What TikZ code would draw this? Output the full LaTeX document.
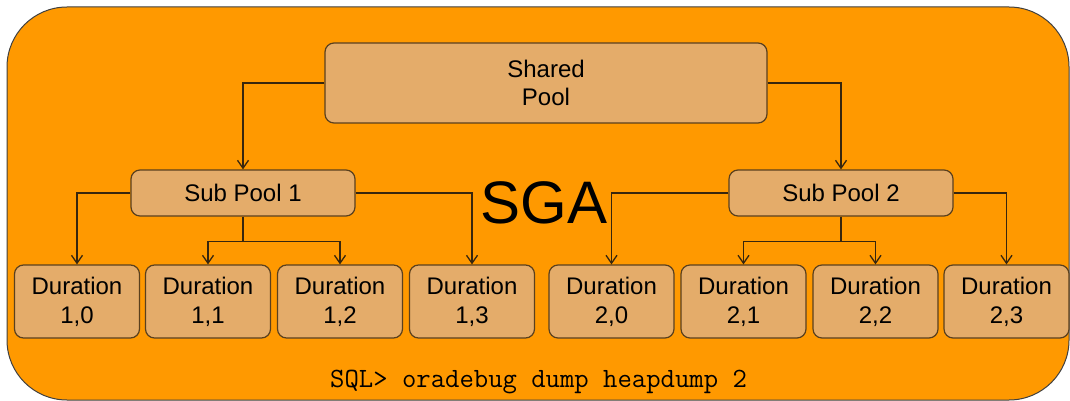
\documentclass[tikz,border=0pt]{standalone}
\usepackage{fontspec}
\setmainfont{Liberation Sans}
\usetikzlibrary{arrows.meta}
\definecolor{sgaorange}{RGB}{255,153,0}
\definecolor{boxfill}{RGB}{228,172,106}
\definecolor{boxline}{RGB}{90,64,30}
\definecolor{linkcol}{RGB}{55,38,14}
\begin{document}
\begin{tikzpicture}[x=1pt,y=-1pt,
    pool/.style={draw=boxline,fill=boxfill,rounded corners=9pt,line width=1.2pt,align=center,inner sep=0pt,font=\fontsize{24}{28}\selectfont},
    dur/.style={pool,minimum width=125pt,minimum height=73pt,font=\fontsize{24}{29}\selectfont},
    link/.style={draw=linkcol,line width=1.3pt},
    arr/.style={link,-{Straight Barb[length=8pt,width=11pt,line width=1.3pt]}}]
    \useasboundingbox (0,0) rectangle (1070,401);
    \fill[white] (0,0) rectangle (1070,401);
    \draw[fill=sgaorange,draw=black!75,line width=1pt,rounded corners=60pt] (7,7) rectangle (1069,400);
    \node[pool,minimum width=442pt,minimum height=80pt] (shared) at (546,83) {Shared\\Pool};
    \node[pool,minimum width=224pt,minimum height=46pt] (sub1) at (243,193) {Sub Pool 1};
    \node[pool,minimum width=224pt,minimum height=46pt] (sub2) at (841,193) {Sub Pool 2};
    \node[dur] (d10) at (77,301.5) {Duration\\1,0};
    \node[dur] (d11) at (208,301.5) {Duration\\1,1};
    \node[dur] (d12) at (340,301.5) {Duration\\1,2};
    \node[dur] (d13) at (472,301.5) {Duration\\1,3};
    \node[dur] (d20) at (611.5,301.5) {Duration\\2,0};
    \node[dur] (d21) at (743.5,301.5) {Duration\\2,1};
    \node[dur] (d22) at (875.5,301.5) {Duration\\2,2};
    \node[dur] (d23) at (1006.5,301.5) {Duration\\2,3};
    \node[anchor=base,inner sep=0pt,font=\fontsize{60}{60}\selectfont] (sga) at (544,223) {SGA};
    \node[anchor=base west,inner sep=0pt,font=\ttfamily\fontsize{27.9}{28}\selectfont] (cmd) at (330,387.7) {SQL> oradebug dump heapdump 2};
    \draw[arr] (shared.west) -| (sub1.north);
    \draw[arr] (shared.east) -| (sub2.north);
    \draw[arr] (sub1.west) -| (d10.north);
    \draw[arr] (sub1.east) -| (d13.north);
    \draw[arr] (sub2.west) -| (d20.north);
    \draw[arr] (sub2.east) -| (d23.north);
    \coordinate (fork1) at ([yshift=-25pt]sub1.south);
    \coordinate (fork2) at ([yshift=-25pt]sub2.south);
    \draw[link] (sub1.south) -- (fork1);
    \draw[arr] (fork1) -| (d11.north);
    \draw[arr] (fork1) -| (d12.north);
    \draw[link] (sub2.south) -- (fork2);
    \draw[arr] (fork2) -| (d21.north);
    \draw[arr] (fork2) -| (d22.north);
\end{tikzpicture}
\end{document}
